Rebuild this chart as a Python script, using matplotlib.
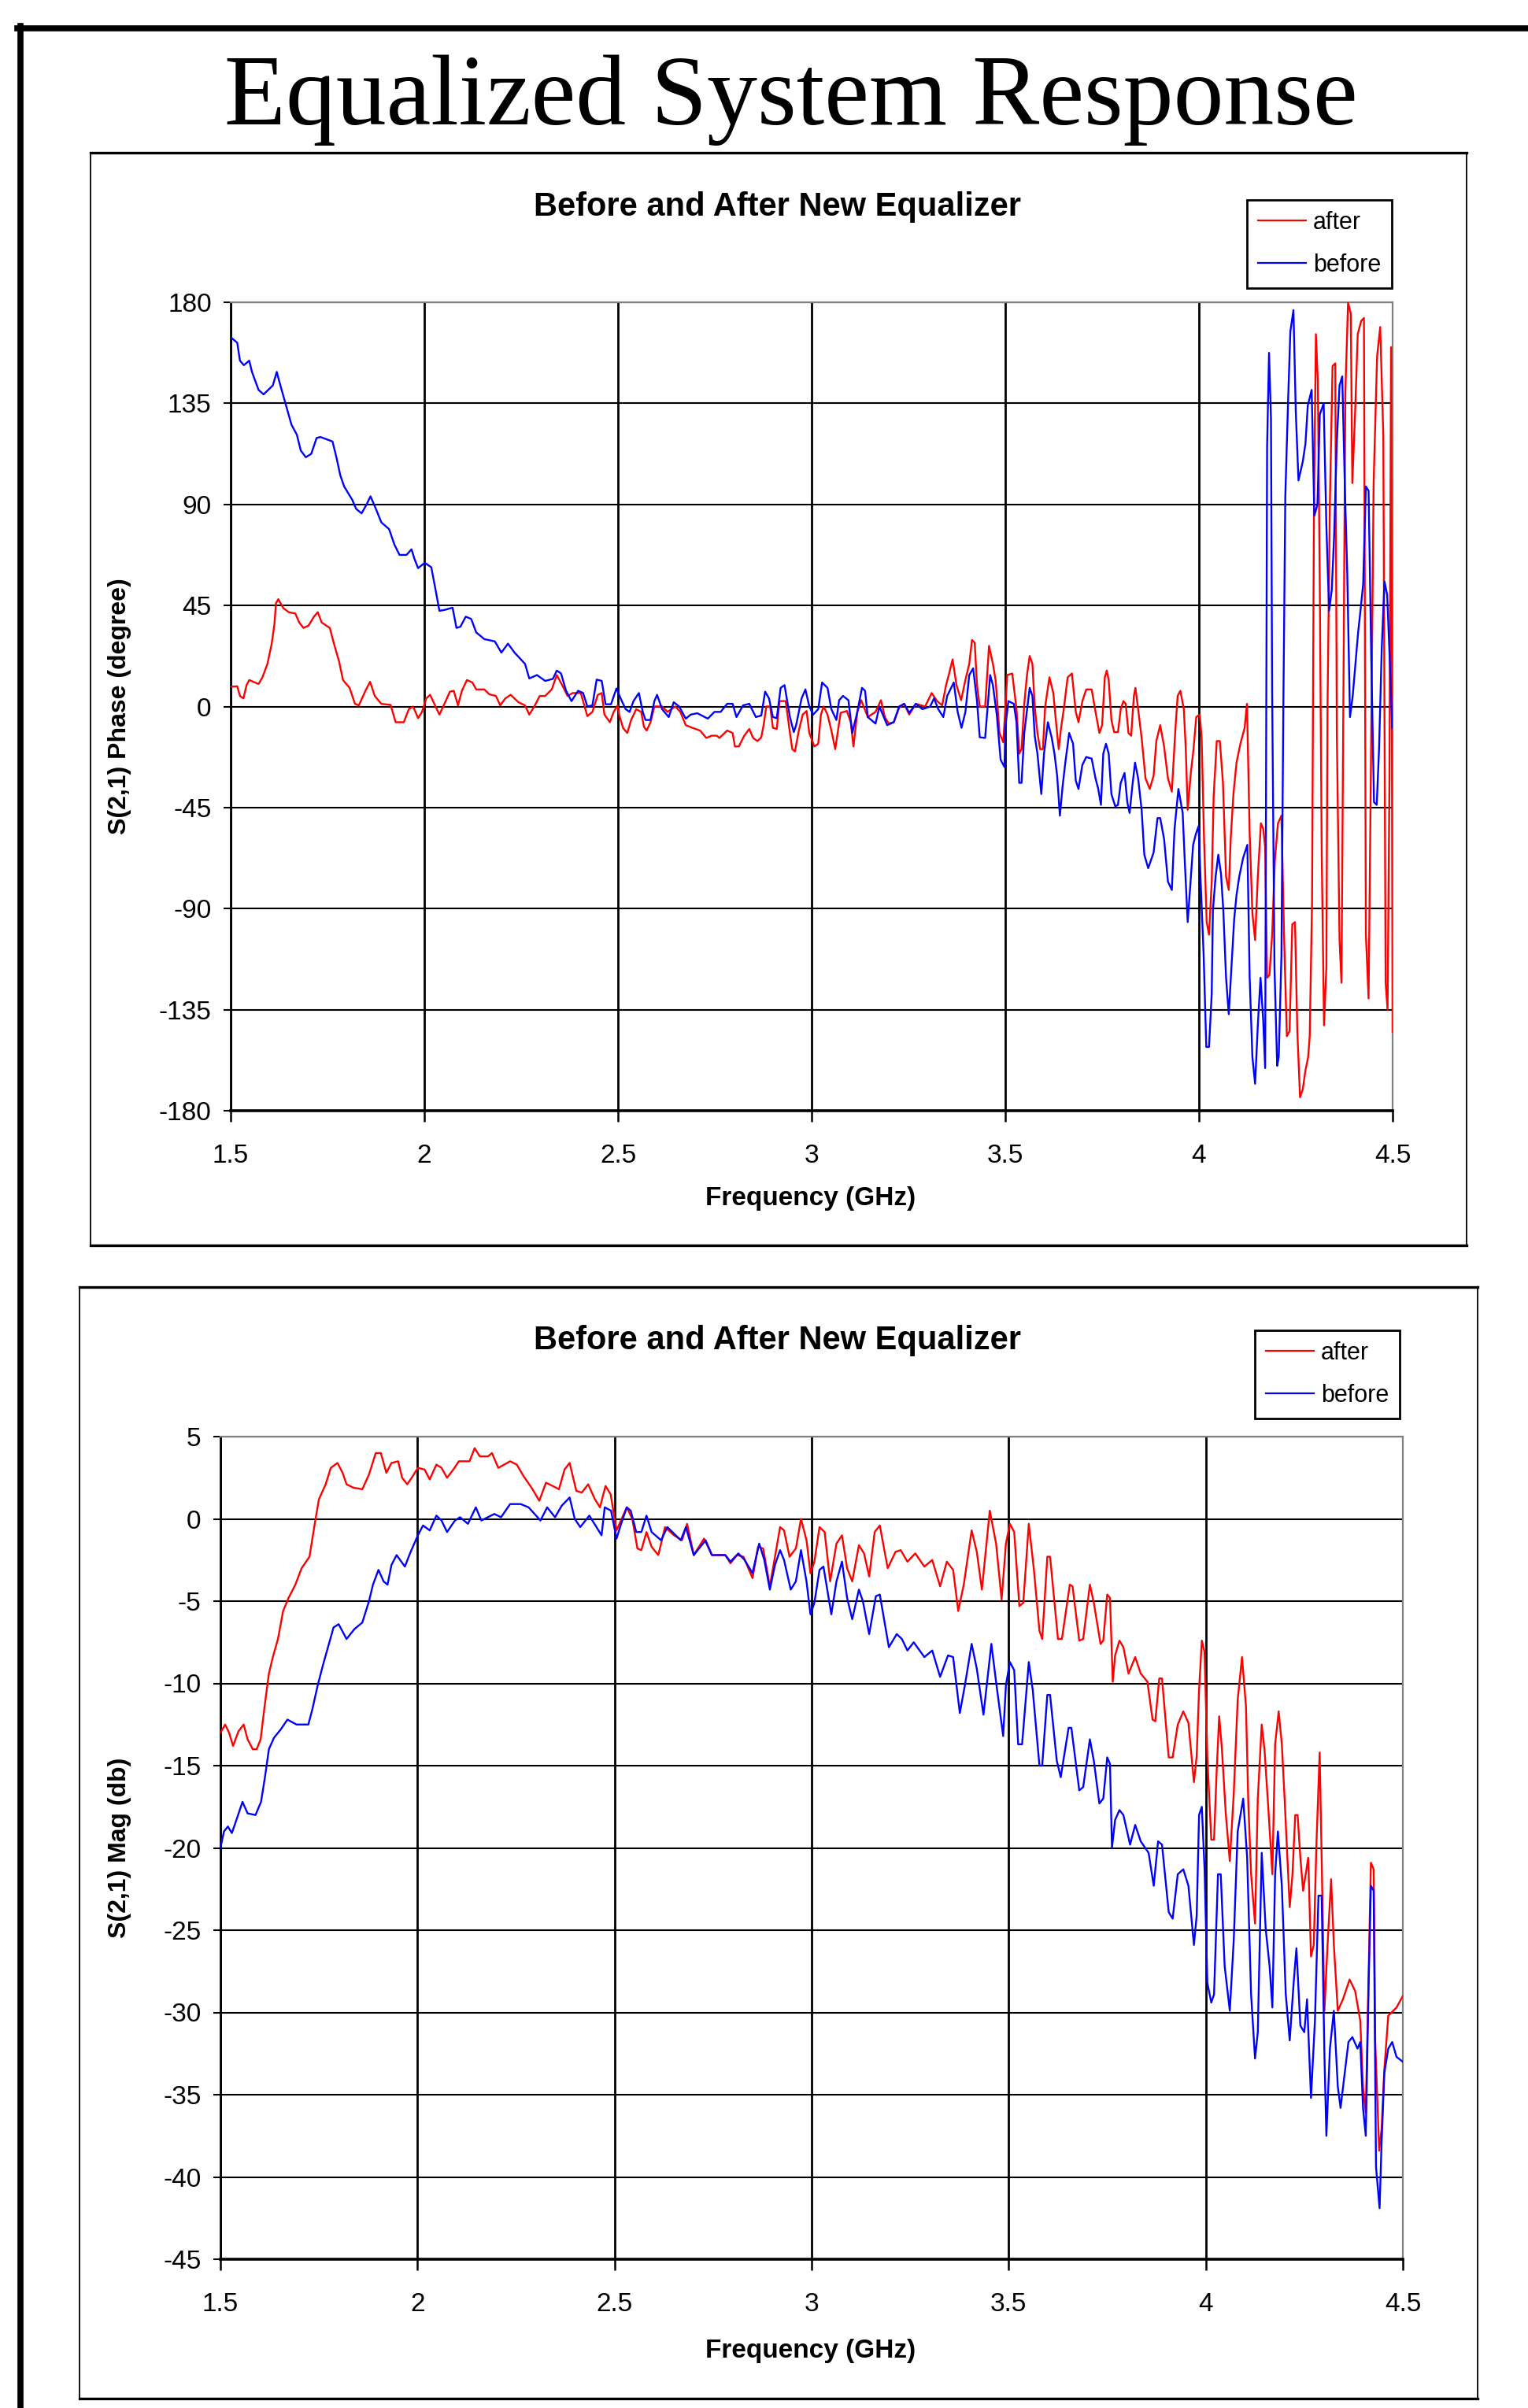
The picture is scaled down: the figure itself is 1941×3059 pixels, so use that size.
import numpy as np
import matplotlib
matplotlib.use('Agg')
import matplotlib.pyplot as plt
from matplotlib.lines import Line2D
from matplotlib.patches import Rectangle

# ---- data (GHz, degrees / dB) ----
f_phase_before = [1.503, 1.517, 1.524, 1.534, 1.548, 1.555, 1.572, 1.585, 1.609, 1.619, 1.630, 1.643, 1.657, 1.671,
                  1.681, 1.694, 1.708, 1.722, 1.732, 1.763, 1.773, 1.783, 1.793, 1.814, 1.824, 1.838, 1.851, 1.861,
                  1.875, 1.889, 1.909, 1.923, 1.936, 1.954, 1.967, 1.974, 1.984, 2.001, 2.018, 2.029, 2.039, 2.052,
                  2.073, 2.083, 2.093, 2.107, 2.121, 2.134, 2.155, 2.182, 2.199, 2.216, 2.233, 2.260, 2.271, 2.291,
                  2.312, 2.332, 2.342, 2.353, 2.366, 2.380, 2.397, 2.410, 2.421, 2.434, 2.445, 2.458, 2.468, 2.482,
                  2.496, 2.510, 2.520, 2.530, 2.540, 2.554, 2.564, 2.571, 2.584, 2.594, 2.601, 2.614, 2.631, 2.644,
                  2.658, 2.675, 2.688, 2.705, 2.732, 2.749, 2.765, 2.782, 2.796, 2.806, 2.823, 2.839, 2.856, 2.870,
                  2.880, 2.890, 2.900, 2.910, 2.920, 2.930, 2.944, 2.954, 2.960, 2.974, 2.984, 2.994, 3.004, 3.017,
                  3.027, 3.041, 3.051, 3.064, 3.071, 3.081, 3.095, 3.105, 3.118, 3.130, 3.138, 3.145, 3.165, 3.175,
                  3.195, 3.212, 3.226, 3.239, 3.252, 3.269, 3.286, 3.306, 3.316, 3.327, 3.340, 3.350, 3.367, 3.377,
                  3.387, 3.397, 3.407, 3.417, 3.427, 3.434, 3.448, 3.461, 3.468, 3.478, 3.488, 3.498, 3.500, 3.508,
                  3.522, 3.529, 3.536, 3.542, 3.549, 3.563, 3.570, 3.576, 3.583, 3.593, 3.600, 3.610, 3.620, 3.627,
                  3.634, 3.641, 3.648, 3.655, 3.665, 3.675, 3.682, 3.689, 3.699, 3.709, 3.723, 3.733, 3.740, 3.747,
                  3.753, 3.760, 3.767, 3.774, 3.784, 3.791, 3.798, 3.808, 3.815, 3.821, 3.828, 3.835, 3.843, 3.852,
                  3.859, 3.869, 3.883, 3.893, 3.900, 3.910, 3.920, 3.930, 3.937, 3.947, 3.958, 3.964, 3.971, 3.978,
                  3.985, 3.992, 3.999, 4.005, 4.012, 4.019, 4.026, 4.033, 4.036, 4.043, 4.050, 4.057, 4.063, 4.070,
                  4.077, 4.084, 4.091, 4.097, 4.104, 4.114, 4.125, 4.131, 4.138, 4.145, 4.152, 4.159, 4.166, 4.171,
                  4.176, 4.181, 4.186, 4.189, 4.195, 4.202, 4.206, 4.213, 4.218, 4.223, 4.230, 4.236, 4.244, 4.250,
                  4.257, 4.268, 4.275, 4.281, 4.291, 4.298, 4.306, 4.312, 4.322, 4.329, 4.336, 4.343, 4.349, 4.356,
                  4.363, 4.370, 4.377, 4.383, 4.390, 4.397, 4.404, 4.411, 4.417, 4.424, 4.431, 4.438, 4.445, 4.452,
                  4.459, 4.465, 4.472, 4.479, 4.486, 4.492, 4.499]
phase_before = [164, 162, 154, 152, 154, 149, 141, 139, 143, 149, 142, 134, 125.5, 121,
                114, 111, 112.5, 119.6, 120, 118, 111, 103, 98, 92, 88, 86, 90, 93.6,
                88, 82, 79, 72, 67.5, 67.5, 70, 66, 61.6, 64, 62, 52, 42.6, 43,
                44, 35, 35.5, 40, 39, 33, 30, 29, 24, 28, 24, 19, 12.5, 14,
                11.4, 12.3, 16, 14.7, 7, 2.4, 7, 6, 0, 0.5, 12, 11.4, 1, 1,
                8, 2.4, -1.2, -2.4, 2.4, 6, -2.4, -6, -6, 2.4, 5.2, -1.2, -4.7, 1.9,
                0, -5.4, -3.6, -3, -5.4, -2.4, -2.4, 1.2, 1.2, -4.7, 0.5, 1.2, -4.7, -4,
                6.6, 3.6, -4.7, -5.2, 8.3, 9.5, -4.7, -11.4, -8.3, 3.6, 7.6, 0, -3.6, -1.2,
                10.7, 8.3, -1.2, -6, 2.8, 4.7, 2.8, -11.8, -2.4, 8.3, 7, -4.7, -7.6, 0,
                -8.3, -7, 0, 1.2, -2.8, 1.2, -1.2, 0, 3.6, -1.2, -4.7, 4.7, 10.7, -2.4,
                -9.5, -2.4, 14, 17, 2.4, -13.7, -14, 14, 9.5, -3.6, -23.7, -27, -9.5, 2.4,
                1.2, -7, -34, -34, -11.8, 8.3, 4.7, -13, -21, -39, -21, -7, -14, -21,
                -31, -48.6, -35.5, -25, -11.8, -16.6, -33, -36.7, -26, -22.5, -23.2, -32, -36.7, -43.8,
                -21, -16.6, -21, -39, -44.5, -43.8, -34, -29.6, -42.6, -47.4, -35.5, -25, -32, -46,
                -66, -72, -65, -49.7, -49.7, -59, -78, -81.7, -54.5, -36.7, -47.4, -71, -96, -79,
                -61.6, -56.8, -53.3, -80.5, -110, -151.6, -151.6, -128, -91, -75.8, -66, -74.6, -91, -120.8,
                -137, -116, -94.7, -84, -75.8, -67.5, -61.6, -120.8, -156, -168, -142, -120.8, -140, -161,
                116, 157.5, 128, 7, -116, -160, -156, -111, 1.2, 93.6, 135, 167, 176.5, 131.5,
                100.7, 109, 117, 134, 141, 85, 90, 130, 135, 80.5, 42.6, 52, 75.8, 118,
                143, 147, 96, 59, -4.7, 4.7, 19, 33, 42.6, 54.5, 98, 96, 21, -42.6,
                -43.8, -19, 26, 55.7, 49.7, 23.7, -9.5]

f_phase_after = [1.500, 1.517, 1.524, 1.533, 1.541, 1.548, 1.572, 1.582, 1.595, 1.606, 1.613, 1.617, 1.623, 1.636,
                 1.650, 1.667, 1.677, 1.688, 1.701, 1.715, 1.725, 1.735, 1.756, 1.766, 1.780, 1.790, 1.807, 1.821,
                 1.831, 1.848, 1.860, 1.872, 1.889, 1.913, 1.926, 1.947, 1.960, 1.971, 1.984, 1.994, 2.005, 2.015,
                 2.029, 2.039, 2.052, 2.066, 2.076, 2.087, 2.097, 2.110, 2.124, 2.134, 2.155, 2.168, 2.185, 2.196,
                 2.209, 2.223, 2.243, 2.260, 2.271, 2.284, 2.298, 2.312, 2.329, 2.342, 2.356, 2.370, 2.383, 2.404,
                 2.421, 2.434, 2.448, 2.458, 2.465, 2.479, 2.489, 2.499, 2.503, 2.513, 2.524, 2.534, 2.547, 2.560,
                 2.567, 2.574, 2.584, 2.594, 2.614, 2.628, 2.648, 2.661, 2.675, 2.692, 2.712, 2.728, 2.742, 2.755,
                 2.762, 2.782, 2.796, 2.802, 2.812, 2.826, 2.839, 2.849, 2.860, 2.870, 2.876, 2.883, 2.893, 2.900,
                 2.910, 2.917, 2.933, 2.944, 2.950, 2.957, 2.967, 2.977, 2.987, 2.994, 3.007, 3.017, 3.024, 3.031,
                 3.041, 3.051, 3.061, 3.068, 3.075, 3.091, 3.101, 3.108, 3.118, 3.128, 3.145, 3.165, 3.179, 3.189,
                 3.199, 3.212, 3.226, 3.239, 3.252, 3.269, 3.293, 3.310, 3.324, 3.337, 3.347, 3.354, 3.364, 3.374,
                 3.386, 3.397, 3.407, 3.414, 3.421, 3.427, 3.434, 3.448, 3.458, 3.468, 3.475, 3.485, 3.495, 3.505,
                 3.518, 3.529, 3.536, 3.542, 3.549, 3.556, 3.563, 3.570, 3.576, 3.583, 3.590, 3.597, 3.603, 3.614,
                 3.624, 3.631, 3.638, 3.644, 3.651, 3.661, 3.672, 3.682, 3.689, 3.699, 3.709, 3.723, 3.733, 3.743,
                 3.750, 3.757, 3.762, 3.767, 3.774, 3.781, 3.791, 3.798, 3.805, 3.811, 3.818, 3.825, 3.832, 3.836,
                 3.843, 3.852, 3.862, 3.873, 3.883, 3.890, 3.900, 3.910, 3.920, 3.930, 3.939, 3.945, 3.952, 3.961,
                 3.966, 3.971, 3.979, 3.986, 3.993, 4.002, 4.007, 4.013, 4.020, 4.026, 4.033, 4.038, 4.046, 4.054,
                 4.062, 4.070, 4.077, 4.082, 4.089, 4.097, 4.107, 4.118, 4.124, 4.131, 4.138, 4.145, 4.152, 4.160,
                 4.166, 4.171, 4.176, 4.182, 4.189, 4.196, 4.204, 4.213, 4.220, 4.227, 4.234, 4.241, 4.248, 4.254,
                 4.261, 4.268, 4.275, 4.282, 4.286, 4.292, 4.297, 4.302, 4.307, 4.312, 4.317, 4.323, 4.329, 4.332,
                 4.338, 4.345, 4.352, 4.356, 4.363, 4.368, 4.373, 4.378, 4.385, 4.392, 4.396, 4.403, 4.410, 4.419,
                 4.426, 4.431, 4.438, 4.444, 4.451, 4.460, 4.468, 4.476, 4.482, 4.487, 4.492, 4.496, 4.500]
phase_after = [8.8, 9, 4.7, 3.6, 9.5, 11.8, 10, 13, 19, 28, 36.7, 46, 47.8, 43.8,
               42, 41.4, 37.4, 35, 36, 40, 42, 37.4, 35, 28.4, 20, 11.8, 8.3, 1.2,
               0.5, 7, 11, 4.7, 1.2, 0.7, -7, -7, -1.2, 0, -5.2, -2.4, 3.6, 5.2,
               0, -3.6, 1.2, 6.6, 7, 0.5, 7, 11.8, 10.7, 7.6, 7.6, 5.4, 4.7, 0.5,
               3.6, 5.2, 1.9, 0.5, -3.6, 0, 4.7, 4.7, 7.6, 14, 9.5, 4.7, 6, 6,
               -4.3, -2.4, 5.2, 6, -3.6, -7, -2.4, 0.5, -3.6, -9.5, -11.8, -6, -1.2, -2.4,
               -9, -10.7, -7, 0, 0, -2.4, 0, -2.4, -8.3, -9.5, -10.7, -14, -13, -13,
               -14, -10.7, -11.8, -17.8, -17.8, -13, -10, -14, -15.4, -13.7, -8.3, 0, 0, -9.5,
               -10, 2.4, 2.4, -11.8, -19, -20, -10.7, -3.6, -2, -11.8, -17.8, -16.6, -3.6, 0,
               -3.6, -10.7, -19, -10.7, -2.8, -2, -7, -17.8, -2.4, 2.8, -4.7, -2.4, 2.8, -4.7,
               -7.6, -7, -0.5, 1.2, -3.6, 1.2, 0, 6, 2.4, 0.5, 9.5, 14, 21, 9.5,
               2.8, 11.8, 19, 29.6, 28.4, 9.5, 0, 0, 27, 19, 11.8, -11.8, -16, 14,
               14.7, -1.2, -21, -19, 1.2, 14, 22.5, 19, 0, -11.8, -19, -19, 0, 13,
               6, -7, -19, -9.5, -1.2, 13, 14.7, -2.4, -7, 2.4, 7.6, 7.6, -2.4, -11.8,
               -8.3, 13, 16, 11.8, -6, -11.4, -11.4, -1.2, 2.4, 1.2, -11.8, -13, 4.7, 8.3,
               -1.2, -14, -32, -36.7, -30.8, -15.4, -8.3, -17.8, -32, -37.9, -10.7, 4.7, 7, -1.2,
               -19, -46, -29.6, -19, -4.7, -3.6, -14, -58, -96, -101.6, -78, -40, -15.4, -15.4,
               -34, -75.8, -81.7, -59, -39, -25, -16.6, -9.5, 1.2, -56.8, -92, -104, -75.8, -52,
               -54.5, -62.8, -120.8, -119.6, -101.6, -68.7, -52, -48.6, -104, -146.8, -144.5, -97, -96, -144.5,
               -174, -170.5, -162, -156, -146.8, -87.6, 90, 165.8, 144.5, 54.5, -66, -142, -116, 0,
               90, 151.6, 152.8, -11.8, -104, -123, 4.7, 139.7, 180, 175, 99.5, 130, 165.8, 171.7,
               173, -101.6, -130, -28, 99.5, 156, 169, 121, -123, -135, -30.8, 160, -145]

f_mag_after = [1.500, 1.512, 1.522, 1.532, 1.546, 1.559, 1.569, 1.582, 1.592, 1.602, 1.612, 1.623, 1.633, 1.646,
               1.659, 1.673, 1.690, 1.706, 1.726, 1.740, 1.750, 1.767, 1.780, 1.797, 1.810, 1.820, 1.837, 1.860,
               1.877, 1.894, 1.907, 1.921, 1.934, 1.951, 1.961, 1.974, 1.988, 2.001, 2.018, 2.031, 2.048, 2.061,
               2.075, 2.091, 2.105, 2.132, 2.145, 2.158, 2.179, 2.189, 2.205, 2.235, 2.252, 2.269, 2.292, 2.309,
               2.326, 2.343, 2.359, 2.373, 2.386, 2.403, 2.417, 2.433, 2.450, 2.463, 2.477, 2.490, 2.505, 2.518,
               2.531, 2.545, 2.558, 2.568, 2.581, 2.594, 2.611, 2.628, 2.651, 2.671, 2.684, 2.701, 2.727, 2.747,
               2.781, 2.794, 2.811, 2.827, 2.850, 2.864, 2.877, 2.894, 2.907, 2.920, 2.930, 2.944, 2.960, 2.973,
               2.987, 2.997, 3.007, 3.020, 3.033, 3.047, 3.063, 3.077, 3.090, 3.103, 3.120, 3.133, 3.146, 3.160,
               3.173, 3.193, 3.213, 3.226, 3.243, 3.263, 3.286, 3.306, 3.326, 3.343, 3.359, 3.372, 3.386, 3.406,
               3.419, 3.432, 3.452, 3.468, 3.482, 3.493, 3.503, 3.514, 3.527, 3.537, 3.551, 3.564, 3.578, 3.585,
               3.598, 3.605, 3.625, 3.635, 3.655, 3.662, 3.679, 3.689, 3.706, 3.716, 3.733, 3.740, 3.750, 3.757,
               3.764, 3.770, 3.781, 3.791, 3.804, 3.821, 3.835, 3.852, 3.865, 3.872, 3.882, 3.889, 3.906, 3.916,
               3.929, 3.943, 3.956, 3.970, 3.977, 3.983, 3.990, 3.997, 4.004, 4.014, 4.021, 4.027, 4.034, 4.041,
               4.051, 4.061, 4.071, 4.081, 4.092, 4.102, 4.108, 4.115, 4.125, 4.132, 4.142, 4.149, 4.159, 4.169,
               4.176, 4.185, 4.193, 4.200, 4.213, 4.220, 4.227, 4.233, 4.240, 4.247, 4.260, 4.267, 4.274, 4.281,
               4.289, 4.294, 4.301, 4.309, 4.318, 4.325, 4.335, 4.348, 4.365, 4.379, 4.392, 4.399, 4.406, 4.413,
               4.419, 4.426, 4.430, 4.440, 4.446, 4.453, 4.463, 4.484, 4.500]
mag_after = [-13, -12.5, -13, -13.8, -12.9, -12.5, -13.4, -14, -14, -13.4, -11.4, -9.4, -8.4, -7.3,
             -5.6, -4.8, -4, -3, -2.3, -0.2, 1.2, 2.1, 3.1, 3.4, 2.8, 2.1, 1.9, 1.8,
             2.7, 4, 4, 2.8, 3.4, 3.5, 2.5, 2.1, 2.6, 3.1, 3, 2.4, 3.3, 3.1,
             2.5, 3, 3.5, 3.5, 4.3, 3.8, 3.8, 4, 3.1, 3.5, 3.3, 2.6, 1.8, 1.1,
             2.2, 2, 1.8, 3, 3.4, 1.7, 1.6, 2.1, 1.2, 0.7, 2, 1.5, -0.7, 0,
             0.7, 0, -1.8, -1.9, -0.8, -1.7, -2.2, -0.5, -1, -1.3, -0.3, -2.2, -1.2, -2.2,
             -2.2, -2.7, -2.2, -2.3, -3.6, -1.7, -1.8, -4.1, -2.3, -0.5, -0.7, -2.3, -1.8, 0,
             -1.3, -3.3, -2.6, -0.5, -0.8, -3.8, -1.5, -1, -3, -3.8, -1.6, -2.1, -3.5, -0.8,
             -0.4, -3, -2, -1.9, -2.6, -2.1, -2.9, -2.5, -4.1, -2.6, -3.1, -5.6, -4, -0.7,
             -2, -4.3, 0.5, -1.5, -4.9, -1.5, -0.3, -0.8, -5.3, -5.1, -0.3, -3.1, -6.8, -7.3,
             -2.3, -2.3, -7.3, -7.3, -4, -4.1, -7.4, -7.3, -4, -5.1, -7.6, -7.4, -4.6, -4.8,
             -9.9, -8.3, -7.4, -7.8, -9.4, -8.4, -9.4, -9.9, -12.2, -12.3, -9.7, -9.7, -14.5, -14.5,
             -12.5, -11.7, -12.4, -16, -14.4, -10.4, -7.4, -8.1, -14.5, -19.5, -19.5, -15.7, -12, -14,
             -18, -20.8, -16.7, -11, -8.4, -11.4, -17.3, -21.6, -24.6, -17, -12.5, -14, -17.7, -21.6,
             -13.7, -11.7, -13.7, -17, -23.6, -21.6, -18, -18, -20.6, -22.6, -20.6, -26.6, -25.9, -19.6,
             -14.2, -20.6, -29.9, -25.9, -21.9, -25.9, -29.9, -29.2, -28, -28.7, -30.5, -34.6, -36.1, -27.9,
             -20.9, -21.3, -31.8, -38.4, -37.1, -33.5, -30.2, -29.7, -29]

f_mag_before = [1.500, 1.509, 1.519, 1.529, 1.542, 1.556, 1.569, 1.589, 1.603, 1.613, 1.623, 1.636, 1.653, 1.670,
                1.693, 1.723, 1.733, 1.747, 1.760, 1.773, 1.787, 1.800, 1.820, 1.840, 1.860, 1.877, 1.887, 1.901,
                1.914, 1.924, 1.934, 1.947, 1.968, 1.981, 2.001, 2.014, 2.031, 2.048, 2.061, 2.075, 2.095, 2.108,
                2.128, 2.148, 2.162, 2.195, 2.212, 2.235, 2.262, 2.282, 2.312, 2.329, 2.349, 2.366, 2.386, 2.399,
                2.413, 2.436, 2.467, 2.475, 2.491, 2.505, 2.518, 2.531, 2.541, 2.555, 2.568, 2.581, 2.594, 2.618,
                2.634, 2.668, 2.681, 2.701, 2.731, 2.747, 2.781, 2.794, 2.814, 2.830, 2.850, 2.867, 2.880, 2.894,
                2.907, 2.920, 2.930, 2.947, 2.960, 2.973, 2.987, 2.997, 3.007, 3.020, 3.030, 3.050, 3.063, 3.077,
                3.090, 3.103, 3.120, 3.130, 3.146, 3.163, 3.173, 3.196, 3.216, 3.229, 3.243, 3.259, 3.286, 3.306,
                3.326, 3.346, 3.359, 3.376, 3.389, 3.406, 3.419, 3.436, 3.456, 3.469, 3.486, 3.493, 3.503, 3.514,
                3.524, 3.534, 3.551, 3.561, 3.578, 3.585, 3.598, 3.605, 3.622, 3.632, 3.652, 3.659, 3.679, 3.689,
                3.706, 3.716, 3.730, 3.740, 3.750, 3.757, 3.762, 3.770, 3.781, 3.791, 3.808, 3.821, 3.835, 3.855,
                3.868, 3.879, 3.889, 3.906, 3.916, 3.929, 3.943, 3.956, 3.970, 3.977, 3.983, 3.990, 3.997, 4.004,
                4.014, 4.021, 4.031, 4.038, 4.048, 4.061, 4.071, 4.081, 4.095, 4.105, 4.115, 4.125, 4.132, 4.142,
                4.152, 4.162, 4.169, 4.176, 4.183, 4.193, 4.203, 4.213, 4.223, 4.230, 4.240, 4.250, 4.257, 4.267,
                4.277, 4.286, 4.294, 4.301, 4.306, 4.315, 4.325, 4.335, 4.342, 4.352, 4.362, 4.372, 4.385, 4.392,
                4.399, 4.406, 4.413, 4.419, 4.426, 4.432, 4.441, 4.446, 4.453, 4.463, 4.473, 4.484, 4.500]
mag_before = [-20, -19, -18.7, -19.1, -18.2, -17.2, -17.9, -18, -17.2, -15.7, -14, -13.3, -12.8, -12.2,
              -12.5, -12.5, -11.6, -10.1, -8.9, -7.8, -6.6, -6.4, -7.3, -6.7, -6.3, -5, -4, -3.1,
              -3.8, -4, -2.8, -2.2, -2.9, -2.1, -1, -0.4, -0.7, 0.2, -0.1, -0.8, -0.1, 0.1,
              -0.3, 0.7, -0.1, 0.3, 0.1, 0.9, 0.9, 0.7, -0.1, 0.7, 0.1, 0.8, 1.3, 0,
              -0.5, 0.2, -1, 0.7, 0.5, -1.2, -0.2, 0.7, 0.5, -0.8, -0.8, 0.2, -0.8, -1.3,
              -0.5, -1.3, -0.5, -2.2, -1.3, -2.2, -2.2, -2.6, -2.1, -2.5, -3.3, -1.5, -2.5, -4.3,
              -2.8, -1.9, -2.5, -4.3, -3.8, -1.9, -3.8, -5.8, -5.1, -3.1, -2.9, -5.8, -3.8, -2.6,
              -4.8, -6.1, -4.3, -5, -7, -4.7, -4.6, -7.8, -7, -7.3, -8, -7.5, -8.4, -8,
              -9.6, -8.3, -8.4, -11.8, -10.1, -7.6, -9.1, -11.9, -7.6, -10.1, -13.2, -10.1, -8.7, -9.2,
              -13.7, -13.7, -8.7, -10.4, -15, -15, -10.7, -10.7, -14.7, -15.7, -12.7, -12.7, -16.5, -16.3,
              -13.4, -14.7, -17.3, -17, -14.5, -14.9, -20, -18.3, -17.7, -18, -19.8, -18.6, -19.6, -20.3,
              -22.3, -19.6, -19.8, -23.9, -24.3, -21.6, -21.3, -22.3, -25.9, -24.1, -18, -17.5, -21.3, -28.2,
              -29.4, -28.9, -21.6, -21.6, -27.2, -29.9, -25.6, -19, -17, -20.6, -28.9, -32.8, -31.2, -20.3,
              -24.9, -27.2, -29.7, -21.6, -19, -22.3, -28.9, -31.7, -28.2, -26.1, -30.8, -31.2, -29.2, -35.2,
              -30.5, -22.9, -22.9, -32.5, -37.5, -32.2, -29.9, -34.5, -35.8, -33.8, -31.8, -31.5, -32.2, -31.8,
              -35.8, -37.5, -28.5, -22.3, -22.6, -39.4, -41.9, -38, -33.7, -32.2, -31.8, -32.7, -33]

x_ticks = [1.5, 2, 2.5, 3, 3.5, 4, 4.5]
x_ticklabels = ['1.5', '2', '2.5', '3', '3.5', '4', '4.5']
phase_ticks = [-180, -135, -90, -45, 0, 45, 90, 135, 180]
mag_ticks = [-45, -40, -35, -30, -25, -20, -15, -10, -5, 0, 5]

W, H = 1941, 3059
SANS = ['Liberation Sans', 'DejaVu Sans']


def fx(px):
    return px / W


def fy(py):
    return 1 - py / H


fig = plt.figure(figsize=(W / 100, H / 100), dpi=100)

# outer slide frame
fig.add_artist(Line2D([fx(22), 1], [fy(36), fy(36)], color='black', lw=5.5))
fig.add_artist(Line2D([fx(26), fx(26)], [fy(33), 0], color='black', lw=5.5))
fig.text(fx(1005), fy(127), 'Equalized System Response', family='Liberation Serif',
         fontsize=92, ha='center', va='center')


def chart(box, plot, title_y, xlab_y, ylab, yticks, ylim, leg_xy, series):
    x0, y0, x1, y1 = box
    fig.add_artist(Rectangle((fx(x0), fy(y1)), fx(x1) - fx(x0), fy(y0) - fy(y1),
                             transform=fig.transFigure, fill=False, ec='black', lw=1.3))
    for yy in (y0, y1):
        fig.add_artist(Line2D([fx(x0), fx(x1)], [fy(yy), fy(yy)], color='black', lw=2.4))

    px0, py0, px1, py1 = plot
    ax = fig.add_axes([fx(px0), fy(py1), (px1 - px0) / W, (py1 - py0) / H])
    for f, v, c, lab in series:
        ax.plot(f, v, color=c, lw=1.7, label=lab, zorder=3)
    ax.set_xlim(1.5, 4.5)
    ax.set_ylim(*ylim)
    ax.set_xticks(x_ticks)
    ax.set_xticklabels(x_ticklabels)
    ax.set_yticks(yticks)
    ax.set_yticklabels([str(t) for t in yticks])
    ax.set_axisbelow(True)
    ax.xaxis.grid(True, color='black', lw=2.0)
    ax.yaxis.grid(True, color='black', lw=1.5)
    for s in ('top', 'right'):
        ax.spines[s].set_color('#808080')
        ax.spines[s].set_linewidth(1.6)
    ax.spines['left'].set_linewidth(2.0)
    ax.spines['bottom'].set_linewidth(2.6)
    ax.tick_params(axis='x', direction='out', length=10, width=1.8, pad=20, labelsize=24)
    ax.tick_params(axis='y', direction='out', length=6.5, width=1.5, pad=11, labelsize=24)
    for t in ax.get_xticklabels() + ax.get_yticklabels():
        t.set_family(SANS)

    fig.text(fx(988), fy(title_y), 'Before and After New Equalizer', family=SANS,
             fontsize=30, fontweight='bold', ha='center', va='center')
    fig.text(fx(1030), fy(xlab_y), 'Frequency (GHz)', family=SANS,
             fontsize=24, fontweight='bold', ha='center', va='center')
    fig.text(fx(152), fy((py0 + py1) / 2), ylab, family=SANS, rotation=90,
             fontsize=23, fontweight='bold', ha='center', va='center')

    handles = [Line2D([], [], color=c, lw=1.6) for _, _, c, _ in series]
    leg = ax.legend(handles, [s[3] for s in series], loc='upper left',
                    bbox_to_anchor=(fx(leg_xy[0]), fy(leg_xy[1])), bbox_transform=fig.transFigure,
                    prop={'family': SANS, 'size': 22}, frameon=True, fancybox=False,
                    framealpha=1, edgecolor='black', borderpad=0.45, labelspacing=0.8,
                    handlelength=2.0, handletextpad=0.3, borderaxespad=0)
    leg.get_frame().set_linewidth(2.0)
    return ax


chart((115, 194, 1863, 1582), (293, 384, 1769, 1411), 263, 1522,
      'S(2,1) Phase (degree)', phase_ticks, (-180, 180), (1584, 254),
      [(f_phase_after, phase_after, '#FF0000', 'after'),
       (f_phase_before, phase_before, '#0000FF', 'before')])

chart((101, 1635, 1877, 3047), (280, 1825, 1782, 2870), 1703, 2987,
      'S(2,1) Mag (db)', mag_ticks, (-45, 5), (1594, 1690),
      [(f_mag_after, mag_after, '#FF0000', 'after'),
       (f_mag_before, mag_before, '#0000FF', 'before')])

fig.savefig('out.png', dpi=100)
